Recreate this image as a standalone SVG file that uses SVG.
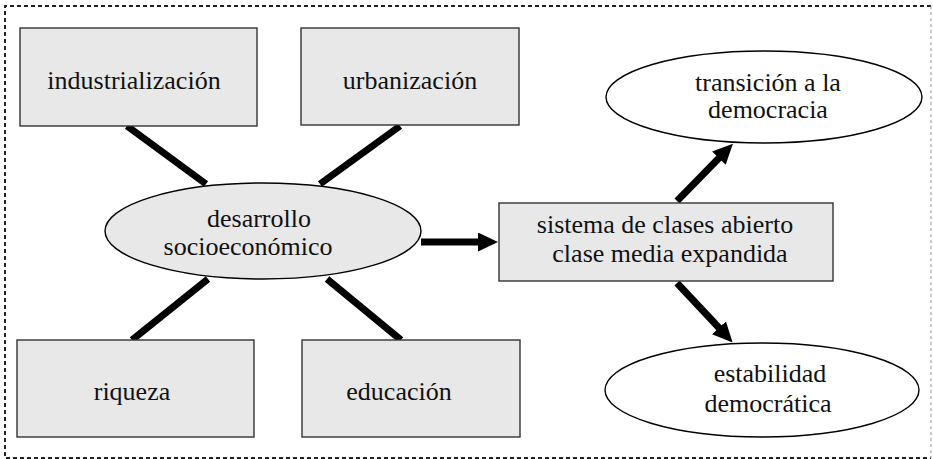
<svg xmlns="http://www.w3.org/2000/svg" width="933" height="459" viewBox="0 0 933 459">
<defs>
<style>
.box{fill:#e8e8e8;stroke:#333;stroke-width:1.4}
.ell{stroke:#000;stroke-width:1.4}
.t{font-family:"Liberation Serif","Times New Roman",serif;font-size:26px;fill:#111;text-anchor:middle}
.ln{stroke:#000;stroke-width:7;fill:none}
</style>
<marker id="ah" markerWidth="20" markerHeight="19" refX="3" refY="9.5" orient="auto" markerUnits="userSpaceOnUse">
<path d="M0,0 L20,9.5 L0,19 Z" fill="#000"/>
</marker>
</defs>
<rect x="0" y="0" width="933" height="459" fill="#fff"/>
<g id="frame">
<path d="M931,6 L5,6 L5,458 L931,458" fill="none" stroke="#222" stroke-width="2" stroke-dasharray="4,3"/>
<line x1="931" y1="6" x2="931" y2="458" stroke="#999" stroke-width="1" stroke-dasharray="3,3"/>
</g>
<g id="connectors">
<line class="ln" x1="127" y1="126" x2="206" y2="184"/>
<line class="ln" x1="400" y1="126" x2="320" y2="184"/>
<line class="ln" x1="208" y1="279" x2="132" y2="340"/>
<line class="ln" x1="327" y1="279" x2="401" y2="340"/>
<line class="ln" x1="421" y1="242" x2="481" y2="242" marker-end="url(#ah)"/>
<line class="ln" x1="677" y1="201" x2="721" y2="156" marker-end="url(#ah)"/>
<line class="ln" x1="677" y1="283" x2="721" y2="330" marker-end="url(#ah)"/>
</g>
<g id="industrializacion">
<rect class="box" x="20" y="28" width="237" height="98"/>
<text class="t" x="134" y="89">industrialización</text>
</g>
<g id="urbanizacion">
<rect class="box" x="301" y="28" width="218" height="97"/>
<text class="t" x="410" y="89">urbanización</text>
</g>
<g id="riqueza">
<rect class="box" x="17" y="340" width="237" height="97"/>
<text class="t" x="132" y="400">riqueza</text>
</g>
<g id="educacion">
<rect class="box" x="302" y="340" width="218" height="97"/>
<text class="t" x="399" y="400">educación</text>
</g>
<g id="desarrollo">
<ellipse class="ell" cx="263" cy="231" rx="158" ry="48" fill="#e8e8e8"/>
<text class="t" x="259" y="227">desarrollo</text>
<text class="t" x="248" y="255">socioeconómico</text>
</g>
<g id="sistema">
<rect class="box" x="499" y="203" width="334" height="78"/>
<text class="t" x="665" y="233">sistema de clases abierto</text>
<text class="t" x="670" y="262">clase media expandida</text>
</g>
<g id="transicion">
<ellipse class="ell" cx="764" cy="97" rx="158" ry="46" fill="#fff"/>
<text class="t" x="768" y="91">transición a la</text>
<text class="t" x="768" y="118">democracia</text>
</g>
<g id="estabilidad">
<ellipse class="ell" cx="762" cy="390" rx="157" ry="47" fill="#fff"/>
<text class="t" x="770" y="382">estabilidad</text>
<text class="t" x="768" y="412">democrática</text>
</g>
</svg>
